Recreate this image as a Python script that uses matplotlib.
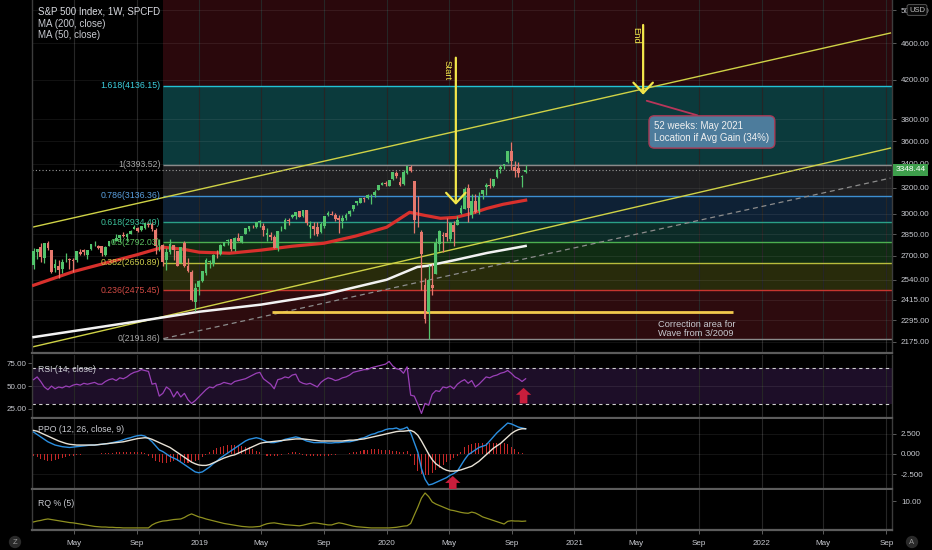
import matplotlib
matplotlib.use('Agg')
import matplotlib.pyplot as plt
import matplotlib.dates as mdates
import matplotlib.transforms as mtransforms
from matplotlib.ticker import FixedLocator, FixedFormatter, NullLocator
import numpy as np
import pandas as pd

plt.rcParams['font.family'] = ['Liberation Sans', 'DejaVu Sans']

# weekly candles, first week 2018-02-12, last week 2020-09-28
first_week = '2018-02-12'
opens = [
    # 2018
    2636, 2722, 2757, 2682, 2790, 2741, 2614, 2633, 2611, 2670, 2675, 2668, 2670, 2722, 2735, 2705,
    2742, 2780, 2766, 2765, 2704, 2768, 2798, 2804, 2819, 2840, 2827, 2853, 2885, 2896, 2881, 2890,
    2924, 2926, 2882, 2764, 2773, 2670, 2726, 2773, 2730, 2650, 2790, 2630, 2590, 2401, 2498,
    # 2019
    2535, 2585, 2657, 2644, 2713, 2712, 2769, 2804, 2814, 2747, 2823, 2797, 2848, 2888, 2908, 2899,
    2940, 2909, 2840, 2841, 2830, 2752, 2886, 2889, 2951, 2971, 2980, 3017, 2982, 3024, 2898, 2908,
    2901, 2866, 2910, 2988, 2997, 2991, 2968, 2944, 2965, 2996, 3035, 3079, 3081, 3118, 3117, 3144,
    3141, 3183, 3226, 3240,
    # 2020
    3217, 3271, 3321, 3248, 3235, 3319, 3370, 3257, 2975, 2863, 2508, 2344, 2510, 2578, 2782, 2846,
    2855, 2815, 2915, 2913, 3005, 3038, 3199, 2993, 3094, 3018, 3155, 3205, 3224, 3219, 3288, 3356,
    3380, 3419, 3507, 3371, 3363, 3285, 3334]
highs = [
    2754, 2747, 2789, 2787, 2802, 2741, 2674, 2673, 2676, 2718, 2683, 2682, 2732, 2743, 2742, 2736,
    2780, 2801, 2774, 2765, 2763, 2804, 2816, 2848, 2841, 2863, 2855, 2876, 2916, 2898, 2908, 2941,
    2939, 2940, 2894, 2816, 2779, 2755, 2815, 2775, 2730, 2760, 2800, 2685, 2601, 2520, 2538,
    2598, 2681, 2673, 2708, 2738, 2778, 2797, 2814, 2817, 2830, 2861, 2836, 2894, 2910, 2918, 2940,
    2954, 2932, 2892, 2865, 2841, 2874, 2905, 2964, 2964, 2996, 3014, 3018, 3027, 3029, 2944, 2941,
    2939, 2940, 2985, 3021, 3022, 3007, 2991, 2993, 3008, 3027, 3067, 3097, 3121, 3127, 3154, 3154,
    3183, 3226, 3247, 3258,
    3267, 3329, 3337, 3285, 3347, 3385, 3393, 3260, 3136, 2882, 2553, 2638, 2641, 2819, 2879, 2868,
    2965, 2934, 2945, 2980, 3068, 3211, 3233, 3155, 3155, 3166, 3186, 3240, 3280, 3272, 3352, 3387,
    3399, 3510, 3588, 3425, 3419, 3309, 3393]
lows = [
    2608, 2675, 2659, 2647, 2741, 2585, 2594, 2553, 2587, 2660, 2612, 2594, 2655, 2701, 2707, 2676,
    2739, 2764, 2743, 2699, 2698, 2764, 2790, 2800, 2795, 2827, 2802, 2851, 2885, 2864, 2874, 2886,
    2903, 2874, 2710, 2732, 2628, 2603, 2712, 2670, 2631, 2649, 2621, 2593, 2409, 2347, 2444,
    2525, 2571, 2617, 2631, 2681, 2704, 2764, 2775, 2729, 2733, 2800, 2785, 2848, 2873, 2890, 2893,
    2900, 2836, 2801, 2805, 2750, 2728, 2873, 2884, 2912, 2970, 2963, 2971, 2972, 2915, 2822, 2840,
    2834, 2856, 2891, 2981, 2990, 2946, 2856, 2892, 2952, 2984, 3023, 3066, 3078, 3091, 3116, 3070,
    3124, 3183, 3223, 3212,
    3215, 3264, 3280, 3214, 3225, 3316, 3328, 2855, 2902, 2478, 2281, 2192, 2447, 2578, 2728, 2727,
    2798, 2798, 2766, 2913, 2999, 3032, 2936, 2966, 3003, 3000, 3115, 3142, 3200, 3204, 3284, 3325,
    3355, 3404, 3349, 3293, 3291, 3209, 3324]
closes = [
    2732, 2747, 2691, 2786, 2752, 2588, 2641, 2604, 2656, 2670, 2670, 2663, 2728, 2713, 2721, 2735,
    2779, 2780, 2755, 2718, 2760, 2801, 2802, 2819, 2840, 2833, 2850, 2875, 2902, 2872, 2905, 2930,
    2914, 2886, 2767, 2768, 2659, 2723, 2781, 2736, 2633, 2760, 2633, 2600, 2417, 2486, 2532,
    2596, 2671, 2665, 2707, 2708, 2776, 2793, 2804, 2743, 2822, 2801, 2834, 2893, 2907, 2905, 2940,
    2946, 2881, 2860, 2826, 2752, 2873, 2887, 2950, 2942, 2990, 3014, 2977, 3026, 2932, 2919, 2889,
    2847, 2926, 2979, 3007, 2992, 2962, 2953, 2970, 2986, 3023, 3067, 3093, 3120, 3110, 3141, 3146,
    3169, 3221, 3240, 3235,
    3265, 3329, 3295, 3226, 3328, 3380, 3338, 2954, 2972, 2711, 2305, 2541, 2489, 2790, 2875, 2837,
    2831, 2930, 2864, 2955, 3044, 3194, 3041, 3098, 3009, 3130, 3185, 3225, 3216, 3271, 3351, 3373,
    3397, 3508, 3427, 3341, 3319, 3298, 3348.44]

# moving averages
ma50_dates = ['2018-02-12', '2018-05-01', '2018-09-01', '2018-10-22', '2018-12-01', '2019-01-01',
              '2019-03-01', '2019-05-01', '2019-07-01', '2019-09-01', '2019-11-01', '2020-01-01',
              '2020-02-15', '2020-03-15', '2020-04-15', '2020-05-15', '2020-06-15', '2020-07-15',
              '2020-08-15', '2020-09-28']
ma50_vals = [2506, 2594, 2705, 2757, 2743, 2723, 2716, 2737, 2764, 2785, 2835, 2899,
             3010, 2987, 2965, 2972, 3002, 3040, 3071, 3103]
ma200_dates = ['2018-02-12', '2018-09-01', '2019-01-01', '2019-05-01', '2019-09-01', '2020-01-01',
               '2020-03-01', '2020-03-20', '2020-05-15', '2020-07-15', '2020-09-28']
ma200_vals = [2200, 2288, 2345, 2387, 2448, 2541, 2624, 2631, 2671, 2718, 2766]

# fibonacci retracement
fib_ratios = ['0', '0.236', '0.382', '0.5', '0.618', '0.786', '1', '1.618']
fib_prices = [2191.86, 2475.45, 2650.89, 2792.03, 2934.49, 3136.36, 3393.52, 4136.15]
fib_start = '2018-10-22'

# drawn trend lines (date, price)
upper_line = (['2018-02-09', '2022-09-09'], [2899, 4722])
lower_line = (['2018-02-09', '2022-09-09'], [2146, 3537])
dashed_line = (['2018-10-23', '2022-09-09'], [2191.86, 3280])
correction_line = (['2019-05-22', '2021-11-06'], 2345)

last_price = 3348.44
price_ticks = [5000, 4600, 4200, 3800, 3600, 3400, 3200, 3000, 2850, 2700, 2540, 2415, 2295, 2175]

rsi = [57, 60, 55, 49, 46, 50, 47, 49, 48, 50,
       49, 51, 52, 51, 53, 52, 53, 54, 52, 52,
       55, 57, 58, 56, 59, 58, 60, 63, 65, 66,
       68, 67, 66, 52, 53, 39, 42, 49, 46, 38,
       44, 38, 42, 35, 31, 34, 38,
       42, 46, 49, 48, 51, 52, 54, 53, 52, 55,
       56, 57, 58, 60, 62, 64, 65, 58, 55, 52,
       47, 57, 58, 60, 59, 62, 63, 55, 53, 52,
       53, 51, 49, 54, 57, 59, 58, 56, 57, 59, 60, 62,
       65, 66, 67, 68, 68, 70, 71, 72, 73, 74,
       77, 72, 69, 68, 64, 71,
       40, 39, 30, 20, 31, 29, 41,
       45, 44, 49, 48, 50, 47, 52,
       55, 57, 53, 56, 49, 52, 56, 60,
       59, 61, 62, 64, 65, 67,
       64, 60, 58, 55, 58]

ppo = [2.7, 2.4, 2.1, 1.8, 1.5, 1.3, 1.1, 1.0, 0.9, 0.85, 0.8,
       0.85, 0.9, 0.95, 1.0, 1.05, 1.1, 1.1, 1.15, 1.2, 1.25, 1.3,
       1.4, 1.5, 1.6, 1.75, 1.9, 2.0, 2.15, 2.25, 2.3,
       2.2, 1.9, 1.5, 1.0, 0.5, 0.3, 0.0, -0.3, -0.5, -0.7, -1.0,
       -1.3, -1.6, -1.9, -2.2, -2.3,
       -2.2, -1.9, -1.6, -1.2, -0.9, -0.5, -0.2, 0.1, 0.4, 0.7,
       1.0, 1.3, 1.6, 1.8, 1.9, 2.0, 1.9, 1.7, 1.5, 1.4, 1.4,
       1.5, 1.6, 1.8, 1.9, 2.0, 2.1, 2.0, 1.8, 1.6, 1.5, 1.4, 1.4,
       1.4, 1.4, 1.35, 1.35, 1.4, 1.4, 1.45, 1.5, 1.5,
       1.6, 1.7, 1.9, 2.0, 2.2, 2.4, 2.5, 2.7, 2.8, 3.0, 3.1,
       3.1, 3.2, 3.0, 3.1, 3.3, 2.6, 1.4, 0.2, -1.8, -3.1, -3.8, -3.7,
       -3.5, -3.3, -3.1, -2.9, -2.6, -2.4, -2.1,
       -1.4, -0.7, -0.1, 0.2, 0.5, 0.8, 0.95, 1.1,
       1.6, 2.1, 2.6, 3.0, 3.4, 3.8, 3.7, 3.5, 3.3, 3.2, 3.1]

ppo_signal = [2.9, 2.8, 2.6, 2.4, 2.2, 2.0, 1.8, 1.6, 1.45, 1.3, 1.2,
              1.15, 1.1, 1.1, 1.1, 1.1, 1.1, 1.1, 1.15, 1.2, 1.25, 1.3,
              1.35, 1.4, 1.45, 1.5, 1.6, 1.7, 1.8, 1.9, 1.95, 2.0,
              1.95, 1.8, 1.6, 1.4, 1.2, 1.0, 0.8, 0.5, 0.2, -0.1,
              -0.4, -0.7, -1.0, -1.2, -1.35, -1.4, -1.4, -1.3,
              -1.1, -0.9, -0.7, -0.5, -0.35, -0.2, -0.1, 0.1,
              0.3, 0.5, 0.7, 0.9, 1.1, 1.3, 1.4,
              1.45, 1.5, 1.55, 1.6, 1.65, 1.7, 1.75, 1.8, 1.85, 1.85,
              1.85, 1.8, 1.75, 1.7, 1.65, 1.6, 1.6, 1.6, 1.6, 1.6, 1.6, 1.6, 1.65, 1.7,
              1.7, 1.75, 1.8, 1.85, 1.95, 2.05, 2.15, 2.25, 2.35, 2.45, 2.55,
              2.65, 2.75, 2.8, 2.8, 2.85, 2.9, 2.7, 2.3,
              1.6, 0.8, 0.0, -0.7, -1.2, -1.5, -1.8, -2.0, -2.1,
              -2.1, -2.05, -1.95, -1.8, -1.65, -1.5, -1.2, -0.9, -0.5, -0.1,
              0.3, 0.7, 1.0, 1.3, 1.7, 2.1, 2.5, 2.8, 3.0, 3.1, 3.1]

ppo_hist = [-0.2, -0.4, -0.6, -0.7, -0.8, -0.8, -0.7, -0.6, -0.5, -0.4, -0.3,
            -0.2, -0.1, -0.1, 0.0, 0.0, 0.0, 0.05, 0.05, 0.1, 0.1, 0.1,
            0.15, 0.2, 0.2, 0.25, 0.3, 0.3, 0.3, 0.3, 0.25,
            0.1, -0.2, -0.5, -0.8, -1.0, -1.1, -1.1, -1.0, -0.9, -0.9, -1.0,
            -1.1, -1.1, -1.0, -0.9, -0.7,
            -0.4, -0.1, 0.2, 0.5, 0.7, 0.9, 1.0, 1.1, 1.1, 1.1,
            1.1, 1.0, 0.9, 0.8, 0.6, 0.4, 0.2, 0.0, -0.2, -0.3, -0.3,
            -0.2, -0.1, 0.0, 0.1, 0.2, 0.2, 0.1, -0.1, -0.2, -0.3, -0.3, -0.3,
            -0.25, -0.2, -0.2, -0.15, -0.1, -0.05, 0.0, 0.05, 0.1,
            0.2, 0.3, 0.4, 0.5, 0.55, 0.6, 0.6, 0.6, 0.55, 0.5, 0.5,
            0.4, 0.4, 0.3, 0.3, 0.4, -0.3, -1.3, -2.1, -2.5, -2.6, -2.6, -2.3,
            -2.0, -1.7, -1.3, -1.0, -0.7, -0.5, -0.2,
            0.3, 0.8, 1.1, 1.2, 1.3, 1.3, 1.3, 1.3,
            1.4, 1.4, 1.4, 1.4, 1.3, 1.2, 0.9, 0.6, 0.3, 0.1, 0.0]

rq = [3.0, 3.3, 3.5, 3.8, 4.0, 3.8, 3.6, 3.4, 3.2, 3.0, 2.8,
      2.7, 2.5, 2.3, 2.1, 1.9, 1.7, 1.5, 1.4, 1.3, 1.3,
      1.2, 1.2, 1.1, 1.1, 1.0, 1.0, 1.0, 1.0, 1.0, 1.0, 1.0, 1.0,
      2.0, 2.6, 3.0, 3.3, 3.4, 3.6, 3.8, 3.9, 4.0, 4.5, 5.2, 5.7, 5.2, 4.7,
      4.4, 4.0, 3.7, 3.4, 3.1, 2.8, 2.5, 2.3, 2.1, 1.9, 1.7, 1.5, 1.4, 1.3,
      1.3, 1.4, 1.5, 2.0, 2.4, 2.6, 2.7, 2.5, 2.3, 2.1, 2.0, 1.9, 1.8, 1.7,
      1.9, 2.2, 2.5, 2.7, 2.6, 2.4, 2.2, 2.0, 2.0, 2.4, 2.7, 2.5, 2.2, 1.9, 1.6, 1.4,
      1.3, 1.2, 1.1, 1.0, 1.0, 1.0, 1.0, 1.0, 1.0, 1.1, 1.2, 1.4, 1.6, 1.7, 2.5,
      5.3, 8.0, 11.0, 12.7, 11.5, 9.7, 9.0, 8.5, 8.0, 7.5, 7.0,
      6.8, 6.5, 6.2, 6.0, 5.9, 6.3, 6.0, 5.4, 4.7, 4.3,
      3.9, 3.5, 3.1, 2.7, 2.3, 3.2, 3.4, 3.3, 3.3, 3.2, 3.3]

xtick_dates = ['2018-05-01', '2018-09-01', '2019-01-01', '2019-05-01', '2019-09-01', '2020-01-01',
               '2020-05-01', '2020-09-01', '2021-01-01', '2021-05-01', '2021-09-01', '2022-01-01',
               '2022-05-01', '2022-09-01']
xtick_labels = ['May', 'Sep', '2019', 'May', 'Sep', '2020', 'May', 'Sep', '2021', 'May', 'Sep',
                '2022', 'May', 'Sep']

BG = '#000000'
UP = '#52c46c'
DOWN = '#e6786d'
YEL = '#f2e64a'
TXT = '#c8cad0'

d = mdates.datestr2num
weeks = pd.date_range(first_week, periods=len(closes), freq='7D')
x = mdates.date2num(weeks.to_pydatetime())
xmin, xmax = d('2018-02-09'), d('2022-09-12')

fig = plt.figure(figsize=(9.32, 5.5), dpi=100, facecolor=BG)


def panel(top, bottom):
    return fig.add_axes([32 / 932, 1 - bottom / 550, 860 / 932, (bottom - top) / 550])


ax = panel(0, 353)
rsi_ax = panel(355, 418)
ppo_ax = panel(419, 489)
rq_ax = panel(490, 530)

for a in (ax, rsi_ax, ppo_ax, rq_ax):
    a.set_facecolor(BG)
    for s in a.spines.values():
        s.set_color('#3c3c3c')
        s.set_linewidth(1)
    a.spines['top'].set_visible(False)
    a.spines['bottom'].set_color('#5c5c5c')
    a.spines['bottom'].set_linewidth(1.6)
    a.set_xlim(xmin, xmax)
    a.xaxis.set_major_locator(FixedLocator(d(xtick_dates)))
    a.xaxis.set_major_formatter(FixedFormatter(xtick_labels))
    a.set_axisbelow(True)
    a.grid(axis='x', color='#262626', lw=0.8)
    a.tick_params(colors='#6a6a6a', labelcolor=TXT, labelsize=5.8, length=3, width=0.6)
    if a is not rq_ax:
        a.tick_params(axis='x', labelbottom=False, length=0)

# ---- main price panel ----
ax.set_yscale('log')
ax.set_ylim(2114, 5130)
ax.yaxis.set_major_locator(FixedLocator(price_ticks))
ax.yaxis.set_major_formatter(FixedFormatter(['%.2f' % p for p in price_ticks]))
ax.yaxis.set_minor_locator(NullLocator())
ax.yaxis.tick_right()
ax.tick_params(axis='y', pad=3)
ax.grid(axis='y', color='#ffffff', alpha=0.07, lw=0.8)

zone_colors = ['#2d0b0e', '#282b0b', '#102c13', '#0c2b27', '#0e2135', '#1f1f21', '#0b3a3c', '#2a080c']
line_colors = ['#8a8a8a', '#c8352f', '#b8bc3c', '#4caf50', '#2aa087', '#3d8fd1', '#8a8a8a', '#22c1d4']
text_colors = ['#a8a8a8', '#d04a44', '#c9c94a', '#5cc060', '#3cbf9a', '#5aa0e0', '#a8a8a8', '#3dd0e0']
zone_edges = fib_prices + [5130]
fx = [d(fib_start), xmax]
for k in range(len(fib_prices)):
    ax.fill_between(fx, zone_edges[k], zone_edges[k + 1], color=zone_colors[k], lw=0, zorder=0)
    ax.hlines(fib_prices[k], fx[0], fx[1], color=line_colors[k], lw=1.0, zorder=1)
    ax.text(fx[0] - 5, fib_prices[k], '%s(%.2f)' % (fib_ratios[k], fib_prices[k]),
            ha='right', va='center', color=text_colors[k], fontsize=6.3, zorder=6)

ax.plot(d(upper_line[0]), upper_line[1], color='#cfd246', lw=1.0, zorder=2)
ax.plot(d(lower_line[0]), lower_line[1], color='#cfd246', lw=1.0, zorder=2)
ax.plot(d(dashed_line[0]), dashed_line[1], color='#8c8c8c', lw=0.9, ls=(0, (4, 3)), zorder=2)
ax.hlines(correction_line[1], d(correction_line[0][0]), d(correction_line[0][1]),
          color='#f2c94c', lw=2, zorder=3)
ax.text(d('2021-06-12'), 2298, 'Correction area for\nWave from 3/2009', ha='left', va='top',
        color=TXT, fontsize=6.7, linespacing=1.0, zorder=6)
ax.axhline(last_price, color='#9a9a9a', lw=0.8, ls=(0, (1, 2)), zorder=2)

# moving averages
ax.plot(d(ma200_dates), ma200_vals, color='#f2f2f2', lw=1.8, zorder=3)
ax.plot(d(ma50_dates), ma50_vals, color='#d8302c', lw=2.3, zorder=3)

# candles
o, h, l, c = (np.array(v, dtype=float) for v in (opens, highs, lows, closes))
col = np.where(c >= o, UP, DOWN)
ax.vlines(x, l, h, colors=col, lw=0.9, zorder=4)
ax.bar(x, np.maximum(np.abs(c - o), 3), bottom=np.minimum(o, c), width=5.4, color=col,
       lw=0, zorder=5)

# start / end arrows
arrow_kw = dict(arrowstyle='->,head_length=0.75,head_width=0.7', color=YEL, lw=1.6,
                shrinkA=0, shrinkB=0, mutation_scale=10)
ax.annotate('', xy=(d('2020-05-15'), 3067), xytext=(d('2020-05-15'), 4438),
            arrowprops=arrow_kw, zorder=7)
ax.annotate('', xy=(d('2021-05-15'), 4044), xytext=(d('2021-05-15'), 4818),
            arrowprops=arrow_kw, zorder=7)
ax.text(d('2020-04-28'), 4297, 'Start', rotation=270, ha='center', va='center', color=YEL,
        fontsize=6.8, zorder=7)
ax.text(d('2021-04-30'), 4690, 'End', rotation=270, ha='center', va='center', color=YEL,
        fontsize=6.8, zorder=7)

ax.annotate('52 weeks: May 2021\nLocation if Avg Gain (34%)',
            xy=(d('2021-05-22'), 3983), xytext=(d('2021-09-26'), 3683),
            ha='center', va='center', multialignment='left', fontsize=7, color='#f0f0f0',
            bbox=dict(boxstyle='round,pad=0.55', fc='#4d7c9c', ec='#a83a55', lw=1),
            arrowprops=dict(arrowstyle='-', color='#b8365a', lw=1.3, relpos=(0.55, 1.0),
                            shrinkA=0, shrinkB=0), zorder=8)

# last price tag
tr = mtransforms.blended_transform_factory(ax.transAxes, ax.transData)
ax.text(1.004, last_price, '%.2f' % last_price, transform=tr, ha='left', va='center',
        fontsize=6, color='white', clip_on=False, zorder=10,
        bbox=dict(boxstyle='square,pad=0.3', fc='#3e9f4c', ec='none'))

# ---- RSI panel ----
rsi_ax.set_ylim(15, 84)
rsi_ax.fill_between([xmin, xmax], 30, 70, color='#1d0e28', lw=0, zorder=0)
rsi_ax.hlines([70, 30], xmin, xmax, color='#cfcfcf', lw=0.8, ls=(0, (3, 3)), zorder=1)
rsi_ax.axhline(50, color='#ffffff', alpha=0.08, lw=0.8, zorder=1)
rsi_ax.plot(x, rsi, color='#9b40b8', lw=0.9, zorder=3)
rsi_ax.yaxis.set_major_locator(FixedLocator([25, 50, 75]))
rsi_ax.yaxis.set_major_formatter(FixedFormatter(['25.00', '50.00', '75.00']))
rsi_ax.tick_params(axis='y', pad=1)
rsi_ax.annotate('', xy=(d('2020-09-24'), 48), xytext=(d('2020-09-24'), 31),
                arrowprops=dict(arrowstyle='simple,head_length=0.5,head_width=1.1,tail_width=0.55',
                                fc='#c81e3c', ec='none', mutation_scale=10,
                                shrinkA=0, shrinkB=0), zorder=6)

# ---- PPO panel ----
ppo_ax.set_ylim(-4.3, 4.3)
ppo_ax.hlines([2.5, 0, -2.5], xmin, xmax, color='#ffffff', alpha=0.08, lw=0.8, zorder=1)
ppo_ax.bar(x, ppo_hist, width=2.0, color='#c62828', lw=0, zorder=2)
ppo_ax.plot(x, ppo, color='#2b8fe0', lw=1.0, zorder=3)
ppo_ax.plot(x, ppo_signal, color='#e8e2d6', lw=1.0, zorder=4)
ppo_ax.yaxis.tick_right()
ppo_ax.yaxis.set_major_locator(FixedLocator([2.5, 0, -2.5]))
ppo_ax.yaxis.set_major_formatter(FixedFormatter(['2.500', '0.000', '-2.500']))
ppo_ax.annotate('', xy=(d('2020-05-09'), -2.7), xytext=(d('2020-05-09'), -4.3),
                arrowprops=dict(arrowstyle='simple,head_length=0.5,head_width=1.1,tail_width=0.55',
                                fc='#c81e3c', ec='none', mutation_scale=10,
                                shrinkA=0, shrinkB=0), zorder=6, annotation_clip=False)

# ---- RQ panel ----
rq_ax.set_ylim(0.3, 13.7)
rq_ax.plot(x, rq, color='#8f9020', lw=0.9, zorder=3)
rq_ax.yaxis.tick_right()
rq_ax.yaxis.set_major_locator(FixedLocator([10]))
rq_ax.yaxis.set_major_formatter(FixedFormatter(['10.00']))
rq_ax.tick_params(axis='x', pad=4)

# ---- titles and legends ----
fig.text(38 / 932, 1 - 12 / 550, 'S&P 500 Index, 1W, SPCFD', fontsize=7, color='#d8dae0', va='center')
fig.text(38 / 932, 1 - 24 / 550, 'MA (200, close)', fontsize=7, color=TXT, va='center')
fig.text(38 / 932, 1 - 35 / 550, 'MA (50, close)', fontsize=7, color=TXT, va='center')
fig.text(38 / 932, 1 - 369 / 550, 'RSI (14, close)', fontsize=6.3, color=TXT, va='center')
fig.text(38 / 932, 1 - 430 / 550, 'PPO (12, 26, close, 9)', fontsize=6.3, color=TXT, va='center')
fig.text(38 / 932, 1 - 503 / 550, 'RQ % (5)', fontsize=6.3, color=TXT, va='center')

fig.text(917 / 932, 1 - 10 / 550, 'USD', ha='center', va='center', fontsize=5.5, color='#c0c0c0',
         bbox=dict(boxstyle='round,pad=0.25', fc='#080808', ec='#555555', lw=0.7))
fig.text(15 / 932, 1 - 542 / 550, 'Z', ha='center', va='center', fontsize=5.5, color='#9a9a9a',
         bbox=dict(boxstyle='circle,pad=0.35', fc='#2a2a2a', ec='none'))
fig.text(912 / 932, 1 - 542 / 550, 'A', ha='center', va='center', fontsize=5.5, color='#9a9a9a',
         bbox=dict(boxstyle='circle,pad=0.35', fc='#2a2a2a', ec='none'))

fig.savefig('out.png', dpi=100, facecolor=BG)
